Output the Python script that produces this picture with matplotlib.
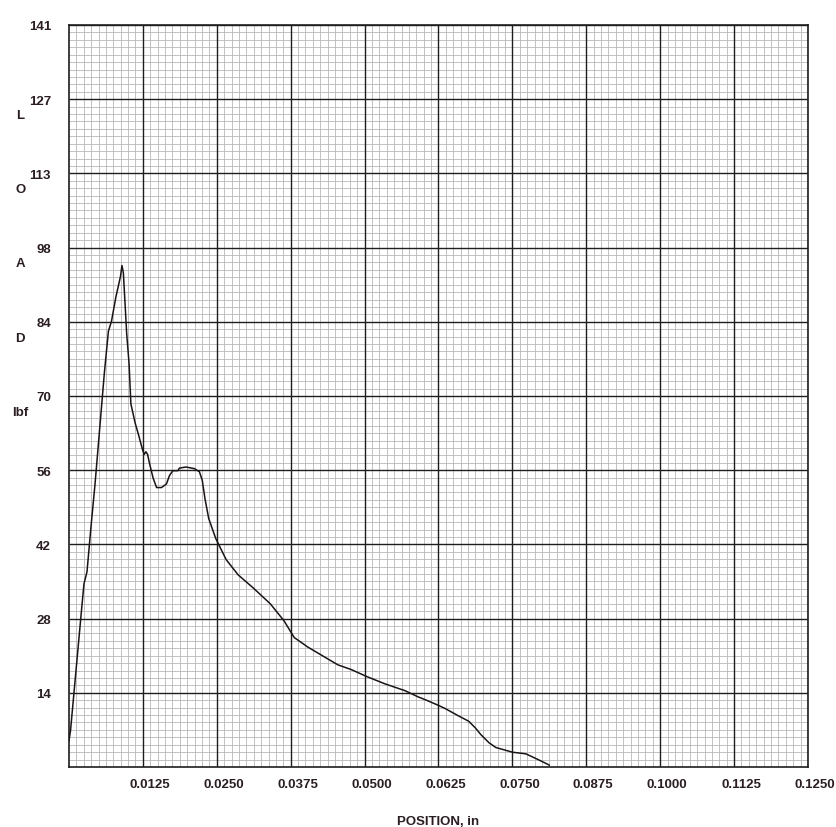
import numpy as np
import matplotlib
matplotlib.use("Agg")
import matplotlib.pyplot as plt
import matplotlib.transforms as mtransforms
from matplotlib.ticker import FixedLocator

plt.rcParams['font.family'] = ['Liberation Sans', 'DejaVu Sans']

# load-position trace (in, lbf)
position = [0.0, 0.00026, 0.00222, 0.00254, 0.00305, 0.00373, 0.00441, 0.00598,
            0.00667, 0.00719, 0.00795, 0.00871, 0.00896, 0.0092, 0.00976, 0.01016,
            0.01047, 0.01121, 0.01182, 0.01244, 0.01273, 0.01301, 0.0133, 0.0136,
            0.01423, 0.01482, 0.01566, 0.01649, 0.01701, 0.01757, 0.01841, 0.01868,
            0.0198, 0.0212, 0.02206, 0.02254, 0.023, 0.02364, 0.02483, 0.02659,
            0.02862, 0.03119, 0.03406, 0.03636, 0.0381, 0.04038, 0.04323, 0.0455,
            0.04777, 0.05033, 0.05344, 0.05683, 0.0591, 0.06023, 0.0625, 0.06364,
            0.0659, 0.0676, 0.06876, 0.06963, 0.07105, 0.0722, 0.07504, 0.07728,
            0.07955, 0.08125]
load = [5.0, 6.9, 31.0, 34.8, 37.1, 45.7, 53.8, 74.8,
        82.8, 84.7, 89.4, 93.2, 95.3, 93.9, 82.4, 76.7,
        69.0, 65.3, 62.9, 60.3, 59.4, 59.9, 59.4, 57.8,
        54.9, 53.1, 53.1, 53.8, 55.4, 56.3, 56.3, 56.8,
        57.0, 56.7, 56.1, 54.5, 51.0, 47.2, 43.4, 39.4,
        36.5, 34.0, 31.0, 27.8, 24.6, 22.8, 20.9, 19.4,
        18.5, 17.2, 15.8, 14.5, 13.3, 12.8, 11.7, 11.1,
        9.7, 8.7, 7.4, 6.2, 4.6, 3.7, 2.8, 2.5,
        1.3, 0.35]

x_ticks = [0.0125, 0.0250, 0.0375, 0.0500, 0.0625, 0.0750, 0.0875, 0.1000, 0.1125, 0.1250]
x_labels = ['0.0125', '0.0250', '0.0375', '0.0500', '0.0625', '0.0750', '0.0875',
            '0.1000', '0.1125', '0.1250']
y_ticks = [14.1, 28.2, 42.3, 56.4, 70.5, 84.6, 98.7, 112.8, 126.9, 141.0]
y_labels = ['14', '28', '42', '56', '70', '84', '98', '113', '127', '141']
axis_letters = ['L', 'O', 'A', 'D', 'lbf']

label_color = '#2a1e22'
major_color = '#1e1e1e'

fig = plt.figure(figsize=(8.36, 8.28), dpi=100)
ax = fig.add_axes([0.0825, 0.0725, 0.884, 0.8961])

ax.set_xlim(0, 0.125)
ax.set_ylim(0, 141)

# graph paper: 10 minor divisions per major cell (skip the major positions)
minor_x = [i * 0.00125 for i in range(101) if i % 10]
minor_y = [i * 1.41 for i in range(101) if i % 10]
ax.xaxis.set_minor_locator(FixedLocator(minor_x))
ax.yaxis.set_minor_locator(FixedLocator(minor_y))
ax.grid(which='minor', color='#b8b8b8', linewidth=0.6)
ax.set_axisbelow(True)

# heavy major rules drawn above the fine grid so they stay solid
ax.vlines(x_ticks, 0, 141, colors=major_color, linewidth=1.0, zorder=1.5)
ax.hlines(y_ticks, 0, 0.125, colors=major_color, linewidth=1.0, zorder=1.5)

ax.set_xticks(x_ticks)
ax.set_xticklabels(x_labels, fontsize=9.5, fontweight='bold', color=label_color)
ax.set_yticks(y_ticks)
ax.set_yticklabels(y_labels, fontsize=9.5, fontweight='bold', color=label_color)
ax.tick_params(which='both', length=0)
ax.tick_params(axis='x', pad=8)
ax.tick_params(axis='y', pad=13)

# labels sit a little right of their grid line
shift = mtransforms.ScaledTranslation(7 / 100, 0, fig.dpi_scale_trans)
for lab in ax.get_xticklabels():
    lab.set_transform(lab.get_transform() + shift)

for sp in ax.spines.values():
    sp.set_color(major_color)
    sp.set_linewidth(1.2)

ax.plot(position, load, color='#1a1418', linewidth=1.1, zorder=3)

ax.set_xlabel('POSITION, in', fontsize=9.5, fontweight='bold', color=label_color, labelpad=18)

# vertical "LOAD lbf" spelled down the left side
trans = mtransforms.blended_transform_factory(ax.transAxes, ax.transData)
for letter, yv in zip(axis_letters, y_ticks[-2::-1]):
    ax.text(-0.066, yv - 3.0, letter, transform=trans, ha='center', va='center',
            fontsize=9.5, fontweight='bold', color=label_color)

fig.savefig('out.png', dpi=100)
